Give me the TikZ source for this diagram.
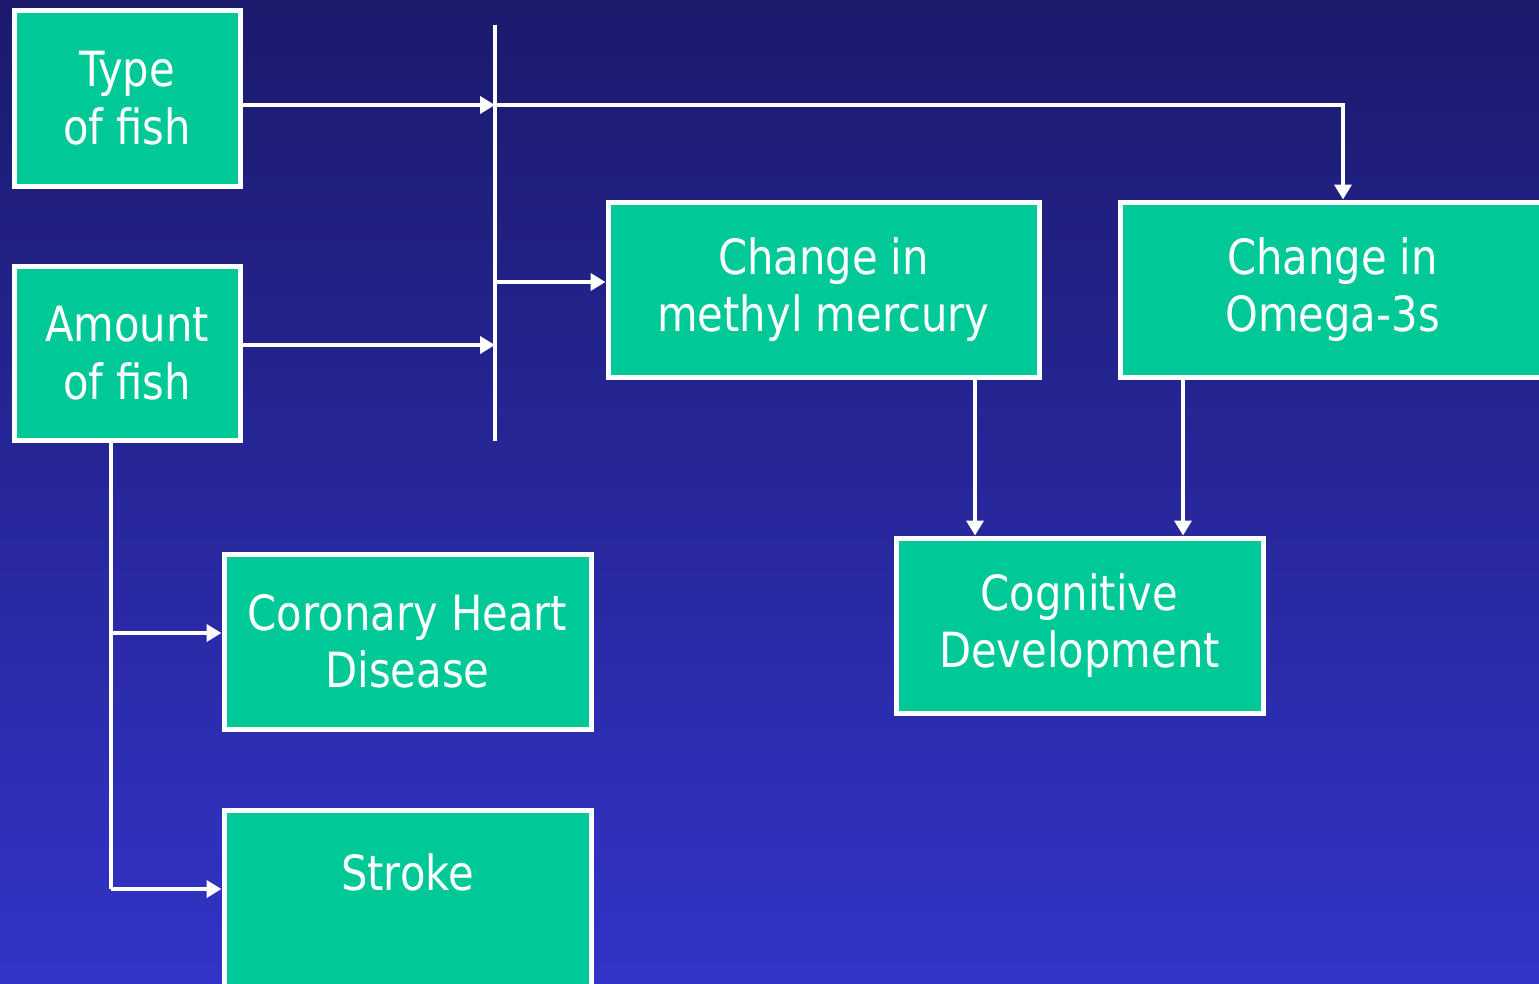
\documentclass[tikz,border=0pt]{standalone}
\usepackage{fontspec}
\setmainfont{DejaVu Sans}[FakeStretch=0.86]
\usetikzlibrary{arrows.meta}
\definecolor{bgtop}{RGB}{27,26,108}
\definecolor{bgbot}{RGB}{51,51,200}
\definecolor{boxgreen}{RGB}{0,200,150}

\begin{document}
\begin{tikzpicture}[
    box/.style={draw=white,fill=boxgreen,line width=0.05cm,align=center,
      text=white,font=\fontsize{13.8}{16.4}\selectfont,inner sep=0pt},
    lbl/.style={text=white,font=\fontsize{13.8}{16.4}\selectfont},
    wire/.style={draw=white,line width=0.045cm},
    arr/.style={wire,-{Triangle[length=0.15cm,width=0.17cm]}}
  ]
      \useasboundingbox (0,0) rectangle (15.39,9.83);
      \clip (0,0) rectangle (15.39,9.83);
      \shade[top color=bgtop,bottom color=bgbot] (0,0) rectangle (15.39,9.83);

      \node[box,minimum width=2.26cm,minimum height=1.76cm] (type) at (1.27,8.85) {Type\\of fish};
      \node[box,minimum width=2.26cm,minimum height=1.74cm] (amount) at (1.27,6.30) {Amount\\of fish};
      \node[box,minimum width=4.31cm,minimum height=1.75cm] (methyl) at (8.235,6.935) {Change in\\methyl mercury};
      \node[box,minimum width=4.25cm,minimum height=1.75cm] (omega) at (13.325,6.935) {Change in\\Omega-3s};
      \node[box,minimum width=3.67cm,minimum height=1.75cm] (cognitive) at (10.795,3.575) {Cognitive\\Development};
      \node[box,minimum width=3.67cm,minimum height=1.75cm] (coronary) at (4.075,3.415) {Coronary Heart\\Disease};
      \node[box,minimum width=3.67cm,minimum height=1.86cm] (stroke) at (4.075,0.80) {};
      \node[lbl,anchor=base] (strokelbl) at (4.075,0.93) {Stroke};

      \coordinate (barT) at (4.95,9.58);
      \coordinate (barB) at (4.95,5.42);
      \draw[wire] (barT) -- (barB);

      \coordinate (typeout) at ([yshift=-0.07cm]type.east);
      \coordinate (amountout) at ([yshift=0.08cm]amount.east);
      \draw[arr] (typeout) -- (typeout -| barT);
      \draw[arr] (amountout) -- (amountout -| barT);

      \coordinate (methylin) at ([yshift=0.075cm]methyl.west);
      \draw[arr] (methylin -| barT) -- (methylin);

      \coordinate (omegain) at ([xshift=0.105cm]omega.north);
      \draw[arr] (typeout -| barT) -| (omegain);

      \coordinate (methylout) at ([xshift=1.515cm]methyl.south);
      \coordinate (omegaout) at ([xshift=-1.495cm]omega.south);
      \draw[arr] (methylout) -- (methylout |- cognitive.north);
      \draw[arr] (omegaout) -- (omegaout |- cognitive.north);

      \coordinate (amountdown) at ([xshift=-0.16cm]amount.south);
      \coordinate (coronaryin) at ([yshift=0.085cm]coronary.west);
      \coordinate (strokein) at (stroke.west |- 0,0.94);
      \draw[wire] (amountdown) -- (amountdown |- strokein);
      \draw[arr] (amountdown |- coronaryin) -- (coronaryin);
      \draw[arr] (amountdown |- strokein) -- (strokein);
\end{tikzpicture}
\end{document}
